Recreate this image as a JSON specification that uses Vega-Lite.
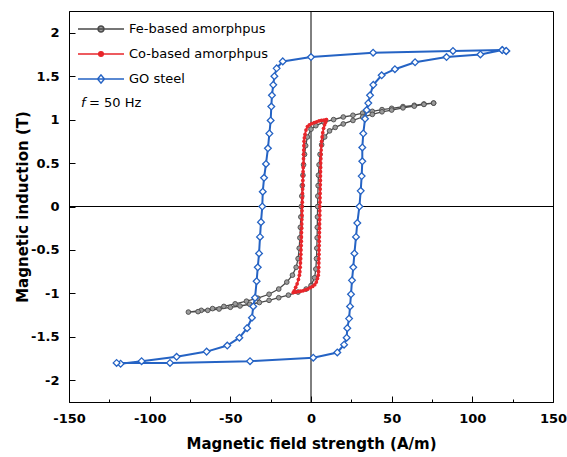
{
  "$schema": "https://vega.github.io/schema/vega-lite/v6.json",
  "width": 484,
  "height": 391,
  "autosize": {"type": "none"},
  "padding": {"left": 69, "top": 11, "right": 14, "bottom": 55},
  "background": "white",
  "config": {
    "view": {"stroke": "black", "strokeWidth": 1},
    "font": "DejaVu Sans",
    "axis": {
      "grid": false,
      "domainColor": "black",
      "tickColor": "black",
      "labelColor": "black",
      "titleColor": "black",
      "labelFont": "DejaVu Sans",
      "labelFontWeight": "bold",
      "labelFontSize": 13,
      "titleFont": "DejaVu Sans",
      "titleFontWeight": "bold",
      "titleFontSize": 15,
      "labelFlush": false,
      "labelOverlap": false
    }
  },
  "datasets": {
    "fe": [
      {"i":0,"H":76,"B":1.19},{"i":1,"H":70,"B":1.18},{"i":2,"H":64,"B":1.165},{"i":3,"H":57,"B":1.15},{"i":4,"H":50,"B":1.13},{"i":5,"H":44,"B":1.115},{"i":6,"H":38,"B":1.095},{"i":7,"H":32,"B":1.075},{"i":8,"H":26,"B":1.05},{"i":9,"H":20,"B":1.03},{"i":10,"H":14,"B":1.0},{"i":11,"H":8,"B":0.97},{"i":12,"H":3,"B":0.93},{"i":13,"H":0,"B":0.89},{"i":14,"H":-2.2,"B":0.8},{"i":15,"H":-3.3,"B":0.7},{"i":16,"H":-4,"B":0.6},{"i":17,"H":-4.6,"B":0.48},{"i":18,"H":-5,"B":0.36},{"i":19,"H":-5.4,"B":0.24},{"i":20,"H":-5.7,"B":0.12},{"i":21,"H":-6,"B":0},{"i":22,"H":-6.3,"B":-0.12},{"i":23,"H":-6.6,"B":-0.24},{"i":24,"H":-6.9,"B":-0.36},{"i":25,"H":-7.3,"B":-0.48},{"i":26,"H":-8,"B":-0.6},{"i":27,"H":-9.2,"B":-0.7},{"i":28,"H":-11.5,"B":-0.79},{"i":29,"H":-15,"B":-0.87},{"i":30,"H":-20,"B":-0.95},{"i":31,"H":-26,"B":-1.01},{"i":32,"H":-33,"B":-1.055},{"i":33,"H":-40,"B":-1.09},{"i":34,"H":-47,"B":-1.12},{"i":35,"H":-54,"B":-1.15},{"i":36,"H":-61,"B":-1.175},{"i":37,"H":-68,"B":-1.195},{"i":38,"H":-76,"B":-1.215},
      {"i":39,"H":-70,"B":-1.21},{"i":40,"H":-64,"B":-1.195},{"i":41,"H":-57,"B":-1.18},{"i":42,"H":-50,"B":-1.16},{"i":43,"H":-44,"B":-1.145},{"i":44,"H":-38,"B":-1.125},{"i":45,"H":-32,"B":-1.105},{"i":46,"H":-26,"B":-1.08},{"i":47,"H":-20,"B":-1.05},{"i":48,"H":-14,"B":-1.02},{"i":49,"H":-8,"B":-0.985},{"i":50,"H":-3,"B":-0.95},{"i":51,"H":0,"B":-0.91},{"i":52,"H":2.2,"B":-0.82},{"i":53,"H":3,"B":-0.72},{"i":54,"H":3.4,"B":-0.6},{"i":55,"H":3.6,"B":-0.48},{"i":56,"H":3.8,"B":-0.36},{"i":57,"H":3.9,"B":-0.24},{"i":58,"H":4.0,"B":-0.12},{"i":59,"H":4.1,"B":0},{"i":60,"H":4.2,"B":0.12},{"i":61,"H":4.4,"B":0.24},{"i":62,"H":4.6,"B":0.36},{"i":63,"H":5,"B":0.48},{"i":64,"H":5.6,"B":0.6},{"i":65,"H":6.6,"B":0.71},{"i":66,"H":8.5,"B":0.8},{"i":67,"H":11.5,"B":0.87},{"i":68,"H":15,"B":0.91},{"i":69,"H":20,"B":0.95},{"i":70,"H":26,"B":0.99},{"i":71,"H":32,"B":1.03},{"i":72,"H":38,"B":1.06},{"i":73,"H":44,"B":1.09},{"i":74,"H":50,"B":1.11},{"i":75,"H":57,"B":1.135},{"i":76,"H":64,"B":1.155},{"i":77,"H":70,"B":1.175},{"i":78,"H":76,"B":1.19}
    ],
    "co": [
      {"i":0,"H":9.5,"B":1.0},{"i":1,"H":8,"B":0.995},{"i":2,"H":6.5,"B":0.99},{"i":3,"H":5,"B":0.985},{"i":4,"H":3.5,"B":0.975},{"i":5,"H":2,"B":0.965},{"i":6,"H":0.5,"B":0.955},{"i":7,"H":-1,"B":0.94},{"i":8,"H":-2.2,"B":0.92},{"i":9,"H":-3.1,"B":0.88},{"i":10,"H":-3.7,"B":0.83},{"i":11,"H":-4.1,"B":0.79},{"i":12,"H":-4.3,"B":0.75},{"i":13,"H":-4.4,"B":0.7},{"i":14,"H":-4.5,"B":0.65},{"i":15,"H":-4.55,"B":0.6},{"i":16,"H":-4.65,"B":0.55},{"i":17,"H":-4.7,"B":0.5},{"i":18,"H":-4.8,"B":0.45},{"i":19,"H":-4.9,"B":0.4},{"i":20,"H":-5.0,"B":0.35},{"i":21,"H":-5.05,"B":0.3},{"i":22,"H":-5.1,"B":0.25},{"i":23,"H":-5.2,"B":0.2},{"i":24,"H":-5.3,"B":0.15},{"i":25,"H":-5.35,"B":0.1},{"i":26,"H":-5.4,"B":0.05},{"i":27,"H":-5.5,"B":0},{"i":28,"H":-5.55,"B":-0.05},{"i":29,"H":-5.6,"B":-0.1},{"i":30,"H":-5.7,"B":-0.15},{"i":31,"H":-5.75,"B":-0.2},{"i":32,"H":-5.8,"B":-0.25},{"i":33,"H":-5.9,"B":-0.3},{"i":34,"H":-5.95,"B":-0.35},{"i":35,"H":-6.0,"B":-0.4},{"i":36,"H":-6.1,"B":-0.45},{"i":37,"H":-6.2,"B":-0.5},{"i":38,"H":-6.3,"B":-0.55},{"i":39,"H":-6.4,"B":-0.6},{"i":40,"H":-6.55,"B":-0.65},{"i":41,"H":-6.7,"B":-0.7},{"i":42,"H":-6.9,"B":-0.75},{"i":43,"H":-7.2,"B":-0.79},{"i":44,"H":-7.8,"B":-0.84},{"i":45,"H":-8.6,"B":-0.89},{"i":46,"H":-9.5,"B":-0.93},{"i":47,"H":-10.4,"B":-0.97},{"i":48,"H":-11,"B":-0.99},
      {"i":49,"H":-9.5,"B":-0.985},{"i":50,"H":-8,"B":-0.98},{"i":51,"H":-6.5,"B":-0.975},{"i":52,"H":-5,"B":-0.97},{"i":53,"H":-3.5,"B":-0.96},{"i":54,"H":-2,"B":-0.95},{"i":55,"H":-0.5,"B":-0.935},{"i":56,"H":1,"B":-0.92},{"i":57,"H":2.3,"B":-0.9},{"i":58,"H":3.3,"B":-0.87},{"i":59,"H":4.0,"B":-0.83},{"i":60,"H":4.5,"B":-0.79},{"i":61,"H":4.7,"B":-0.75},{"i":62,"H":4.8,"B":-0.7},{"i":63,"H":4.85,"B":-0.65},{"i":64,"H":4.9,"B":-0.6},{"i":65,"H":4.95,"B":-0.55},{"i":66,"H":5.0,"B":-0.5},{"i":67,"H":5.05,"B":-0.45},{"i":68,"H":5.1,"B":-0.4},{"i":69,"H":5.15,"B":-0.35},{"i":70,"H":5.2,"B":-0.3},{"i":71,"H":5.25,"B":-0.25},{"i":72,"H":5.3,"B":-0.2},{"i":73,"H":5.35,"B":-0.15},{"i":74,"H":5.4,"B":-0.1},{"i":75,"H":5.45,"B":-0.05},{"i":76,"H":5.5,"B":0},{"i":77,"H":5.55,"B":0.05},{"i":78,"H":5.6,"B":0.1},{"i":79,"H":5.65,"B":0.15},{"i":80,"H":5.7,"B":0.2},{"i":81,"H":5.75,"B":0.25},{"i":82,"H":5.8,"B":0.3},{"i":83,"H":5.85,"B":0.35},{"i":84,"H":5.9,"B":0.4},{"i":85,"H":5.95,"B":0.45},{"i":86,"H":6.0,"B":0.5},{"i":87,"H":6.1,"B":0.55},{"i":88,"H":6.2,"B":0.6},{"i":89,"H":6.3,"B":0.65},{"i":90,"H":6.45,"B":0.7},{"i":91,"H":6.6,"B":0.75},{"i":92,"H":6.9,"B":0.8},{"i":93,"H":7.3,"B":0.85},{"i":94,"H":7.8,"B":0.9},{"i":95,"H":8.4,"B":0.94},{"i":96,"H":9,"B":0.97},{"i":97,"H":9.5,"B":1.0}
    ],
    "go": [
      {"i":0,"H":121,"B":1.79},{"i":1,"H":118.5,"B":1.8},{"i":2,"H":88,"B":1.79},{"i":3,"H":38.5,"B":1.77},{"i":4,"H":0,"B":1.72},{"i":5,"H":-17.5,"B":1.67},{"i":6,"H":-21.3,"B":1.59},{"i":7,"H":-22.7,"B":1.5},{"i":8,"H":-23.4,"B":1.4},{"i":9,"H":-24.2,"B":1.28},{"i":10,"H":-24.6,"B":1.15},{"i":11,"H":-25,"B":0.99},{"i":12,"H":-25.8,"B":0.84},{"i":13,"H":-26.7,"B":0.67},{"i":14,"H":-27.9,"B":0.49},{"i":15,"H":-29.1,"B":0.33},{"i":16,"H":-29.9,"B":0.17},{"i":17,"H":-30.2,"B":0},{"i":18,"H":-31,"B":-0.18},{"i":19,"H":-31.6,"B":-0.35},{"i":20,"H":-32.2,"B":-0.54},{"i":21,"H":-33,"B":-0.7},{"i":22,"H":-33.7,"B":-0.86},{"i":23,"H":-34.7,"B":-1.05},{"i":24,"H":-35.8,"B":-1.15},{"i":25,"H":-36.6,"B":-1.28},{"i":26,"H":-39.6,"B":-1.4},{"i":27,"H":-44.4,"B":-1.51},{"i":28,"H":-51.9,"B":-1.6},{"i":29,"H":-64.7,"B":-1.67},{"i":30,"H":-83.3,"B":-1.73},{"i":31,"H":-105,"B":-1.78},{"i":32,"H":-118,"B":-1.81},{"i":33,"H":-120.5,"B":-1.8},
      {"i":34,"H":-87.4,"B":-1.8},{"i":35,"H":-37.8,"B":-1.78},{"i":36,"H":1.4,"B":-1.74},{"i":37,"H":16.3,"B":-1.68},{"i":38,"H":20.5,"B":-1.59},{"i":39,"H":22.1,"B":-1.51},{"i":40,"H":22.5,"B":-1.4},{"i":41,"H":23.6,"B":-1.29},{"i":42,"H":24.2,"B":-1.15},{"i":43,"H":24.8,"B":-1.01},{"i":44,"H":25.4,"B":-0.85},{"i":45,"H":26.2,"B":-0.7},{"i":46,"H":26.9,"B":-0.54},{"i":47,"H":27.9,"B":-0.35},{"i":48,"H":28.7,"B":-0.19},{"i":49,"H":30,"B":0},{"i":50,"H":30.8,"B":0.18},{"i":51,"H":31.4,"B":0.35},{"i":52,"H":31.8,"B":0.52},{"i":53,"H":31.8,"B":0.68},{"i":54,"H":32.4,"B":0.84},{"i":55,"H":33.5,"B":1.01},{"i":56,"H":34.5,"B":1.11},{"i":57,"H":35.5,"B":1.19},{"i":58,"H":36.6,"B":1.28},{"i":59,"H":38.6,"B":1.4},{"i":60,"H":43.8,"B":1.51},{"i":61,"H":52,"B":1.58},{"i":62,"H":64.5,"B":1.66},{"i":63,"H":84,"B":1.72},{"i":64,"H":105,"B":1.75},{"i":65,"H":118.6,"B":1.8},{"i":66,"H":121,"B":1.79}
    ]
  },
  "layer": [
    {
      "data": {"values": [{}]},
      "mark": {"type": "rule", "color": "black", "strokeWidth": 1},
      "encoding": {"y": {"datum": 0, "type": "quantitative", "title": "Magnetic induction (T)"}}
    },
    {
      "data": {"values": [{}]},
      "mark": {"type": "rule", "color": "black", "strokeWidth": 1},
      "encoding": {"x": {"datum": 0, "type": "quantitative", "title": "Magnetic field strength (A/m)"}}
    },
    {
      "encoding": {
        "x": {
          "field": "H", "type": "quantitative",
          "title": "Magnetic field strength (A/m)",
          "scale": {"domain": [-150, 150], "nice": false, "zero": false},
          "axis": {
            "values": [-150, -125, -100, -75, -50, -25, 0, 25, 50, 75, 100, 125, 150],
            "labelExpr": "datum.value % 50 === 0 ? '' + datum.value : ''",
            "tickSize": {"condition": {"test": "datum.value % 50 === 0", "value": -6}, "value": -3},
            "labelPadding": 16,
            "titlePadding": 8
          }
        },
        "y": {
          "field": "B", "type": "quantitative",
          "title": "Magnetic induction (T)",
          "scale": {"domain": [-2.25, 2.25], "nice": false, "zero": false},
          "axis": {
            "values": [-2, -1.75, -1.5, -1.25, -1, -0.75, -0.5, -0.25, 0, 0.25, 0.5, 0.75, 1, 1.25, 1.5, 1.75, 2],
            "labelExpr": "datum.value % 0.5 === 0 ? '' + datum.value : ''",
            "tickSize": {"condition": {"test": "datum.value % 0.5 === 0", "value": -6}, "value": -3},
            "labelPadding": 16,
            "titlePadding": 0
          }
        }
      },
      "layer": [
        {
          "data": {"name": "fe"},
          "mark": {"type": "line", "strokeWidth": 1.3},
          "encoding": {
            "order": {"field": "i", "type": "quantitative"},
            "color": {
              "datum": "Fe-based amorphpus",
              "scale": {"domain": ["Fe-based amorphpus", "Co-based amorphpus", "GO steel"], "range": ["#4a4a4a", "#e8262b", "#2563c4"]},
              "legend": {
                "orient": "none", "legendX": 8, "legendY": 10, "title": null, "padding": 0,
                "symbolSize": 2116, "symbolStrokeWidth": 1.5, "clipHeight": 16, "rowPadding": 9,
                "labelFont": "DejaVu Sans", "labelFontSize": 13, "labelColor": "black", "labelOffset": 4,
                "encode": {"symbols": {"update": {
                  "shape": {"signal": "datum.value === 'GO steel' ? 'M-1,0L1,0M0,-0.18L0.15,0L0,0.18L-0.15,0Z' : (datum.value === 'Co-based amorphpus' ? 'M-1,0L1,0M0.1,0A0.1,0.1,0,1,1,-0.1,0A0.1,0.1,0,1,1,0.1,0Z' : 'M-1,0L1,0M0.13,0A0.13,0.13,0,1,1,-0.13,0A0.13,0.13,0,1,1,0.13,0Z')"},
                  "fill": {"signal": "datum.value === 'GO steel' ? 'white' : (datum.value === 'Co-based amorphpus' ? '#e8262b' : '#9b9b9b')"}
                }}}
              }
            }
          }
        },
        {
          "data": {"name": "fe"},
          "mark": {"type": "point", "shape": "circle", "filled": true, "fill": "#9b9b9b", "stroke": "#4a4a4a", "strokeWidth": 0.9, "size": 22, "opacity": 1}
        },
        {
          "data": {"name": "co"},
          "mark": {"type": "line", "strokeWidth": 1.8},
          "encoding": {
            "order": {"field": "i", "type": "quantitative"},
            "color": {"datum": "Co-based amorphpus"}
          }
        },
        {
          "data": {"name": "co"},
          "mark": {"type": "point", "shape": "circle", "filled": true, "fill": "#e8262b", "strokeWidth": 0, "size": 14, "opacity": 1}
        },
        {
          "data": {"name": "go"},
          "mark": {"type": "line", "strokeWidth": 2},
          "encoding": {
            "order": {"field": "i", "type": "quantitative"},
            "color": {"datum": "GO steel"}
          }
        },
        {
          "data": {"name": "go"},
          "mark": {"type": "point", "shape": "diamond", "filled": true, "fill": "white", "stroke": "#2563c4", "strokeWidth": 1.3, "size": 45, "opacity": 1}
        }
      ]
    },
    {
      "data": {"values": [{}]},
      "mark": {"type": "text", "text": "f", "font": "DejaVu Sans", "fontStyle": "italic", "fontSize": 13, "align": "left", "baseline": "middle", "color": "black"},
      "encoding": {
        "x": {"datum": -142.6, "type": "quantitative", "title": "Magnetic field strength (A/m)"},
        "y": {"datum": 1.19, "type": "quantitative", "title": "Magnetic induction (T)"}
      }
    },
    {
      "data": {"values": [{}]},
      "mark": {"type": "text", "text": "= 50 Hz", "font": "DejaVu Sans", "fontSize": 13, "align": "left", "baseline": "middle", "dx": 8, "color": "black"},
      "encoding": {
        "x": {"datum": -142.6, "type": "quantitative", "title": "Magnetic field strength (A/m)"},
        "y": {"datum": 1.19, "type": "quantitative", "title": "Magnetic induction (T)"}
      }
    }
  ]
}
